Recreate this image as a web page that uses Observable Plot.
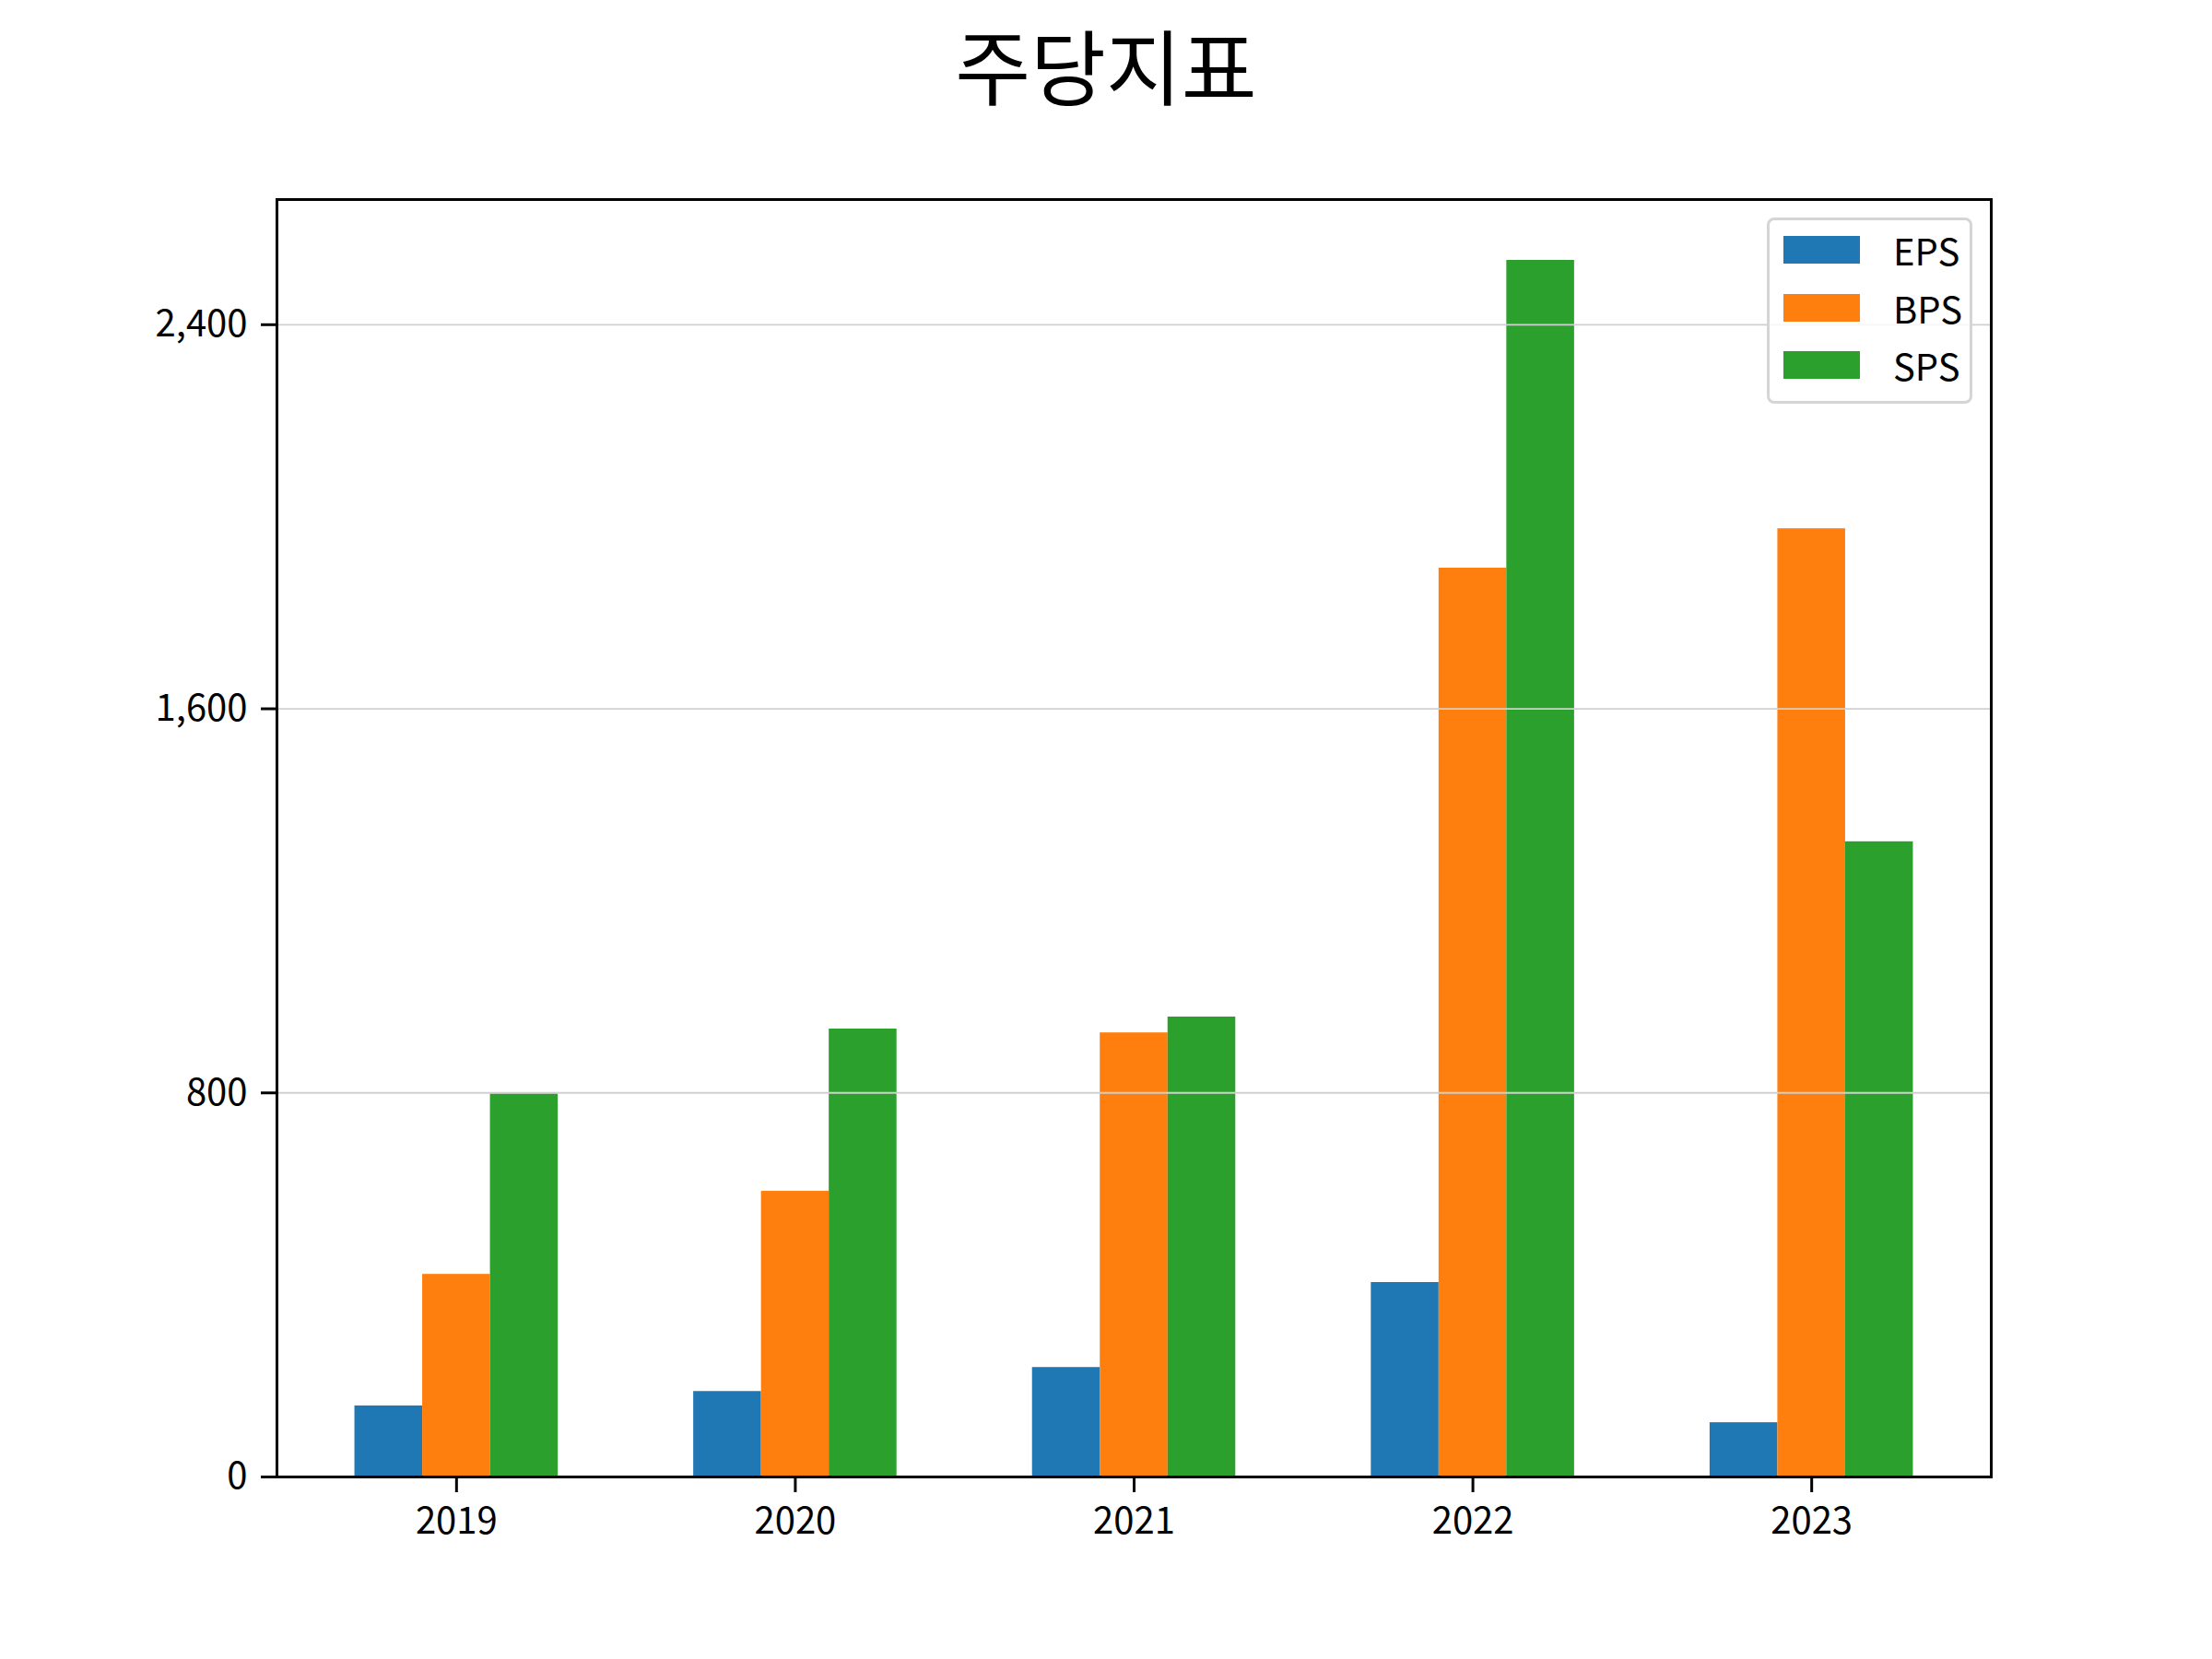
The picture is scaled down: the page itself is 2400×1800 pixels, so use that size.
<!DOCTYPE html>
<html>
<head>
<meta charset="utf-8">
<script src="https://cdn.jsdelivr.net/npm/d3@7"></script>
<script src="https://cdn.jsdelivr.net/npm/@observablehq/plot@0.6"></script>
<style>
  html, body { margin: 0; padding: 0; background: #fff; }
  #fig { position: relative; width: 2400px; height: 1800px; background: #fff; font-family: "Noto Sans CJK KR", "Noto Sans", sans-serif; }
  #title { position: absolute; left: 0; width: 2400px; top: 24px; text-align: center; font-size: 89px; line-height: 89px; color: #000; }
  #legend { position: absolute; left: 1917px; top: 236px; width: 223px; height: 202px; box-sizing: border-box;
            border: 3px solid #d5d5d5; border-radius: 8px; background: rgba(255,255,255,0.8); padding-top: 1px; }
  .row { height: 62.5px; display: flex; align-items: center; padding-left: 15px; }
  .sw { width: 83px; height: 30px; margin-right: 36px; }
  .lab { font-size: 40px; line-height: 1; color: #000; }
  svg { position: absolute; left: 0; top: 0; }
</style>
</head>
<body>
<div id="fig">
  <div id="title">주당지표</div>
</div>
<script>
const title = "주당지표";
const years = ["2019", "2020", "2021", "2022", "2023"];
const seriesNames = ["EPS", "BPS", "SPS"];
const colors = ["#1f77b4", "#ff7f0e", "#2ca02c"];
const eps = [148, 178, 228, 405, 113];
const bps = [422, 595, 925, 1893, 1975];
const sps = [798, 933, 958, 2534, 1323];
const yTicks = [0, 800, 1600, 2400];

const seriesValues = [eps, bps, sps];
const barWidth = 0.2;
const table = [];
years.forEach((yr, i) => {
  seriesNames.forEach((s, j) => {
    table.push({ year: yr, i, j, series: s, value: seriesValues[j][i] });
  });
});

const xmin = -0.3, xmax = years.length - 1 + 0.3;
const xpad = 0.05 * (xmax - xmin);
const ymax = d3.max(table, d => d.value) * 1.05;

const chart = Plot.plot({
  width: 2400,
  height: 1800,
  marginLeft: 300,
  marginRight: 240,
  marginTop: 216,
  marginBottom: 198,
  style: { fontFamily: "'Noto Sans CJK KR', 'Noto Sans', sans-serif", fontSize: "40px", color: "#000", background: "transparent" },
  x: { domain: [xmin - xpad, xmax + xpad] },
  y: { domain: [0, ymax] },
  color: { domain: seriesNames, range: colors },
  marks: [
    Plot.rect(table, {
      x1: d => d.i + (d.j - 1) * barWidth - barWidth / 2,
      x2: d => d.i + (d.j - 1) * barWidth + barWidth / 2,
      y1: 0,
      y2: "value",
      fill: "series"
    }),
    Plot.ruleY(yTicks.slice(1), { stroke: "#d0d0d0", strokeWidth: 1.8 }),
    Plot.axisY({ ticks: yTicks, tickFormat: d3.format(","), tickSize: 17, tickPadding: 15, strokeWidth: 3, fontSize: 40, label: null }),
    Plot.axisX({ ticks: d3.range(years.length), tickFormat: i => years[i], tickSize: 17, tickPadding: 16, strokeWidth: 3, fontSize: 40, label: null }),
    Plot.frame({ stroke: "#000", strokeWidth: 3 })
  ]
});

const fig = document.getElementById("fig");
fig.appendChild(chart);

const legend = document.createElement("div");
legend.id = "legend";
seriesNames.forEach((s, k) => {
  const row = document.createElement("div");
  row.className = "row";
  const sw = document.createElement("div");
  sw.className = "sw";
  sw.style.background = colors[k];
  const lab = document.createElement("span");
  lab.className = "lab";
  lab.textContent = s;
  row.appendChild(sw);
  row.appendChild(lab);
  legend.appendChild(row);
});
fig.appendChild(legend);
</script>
</body>
</html>
